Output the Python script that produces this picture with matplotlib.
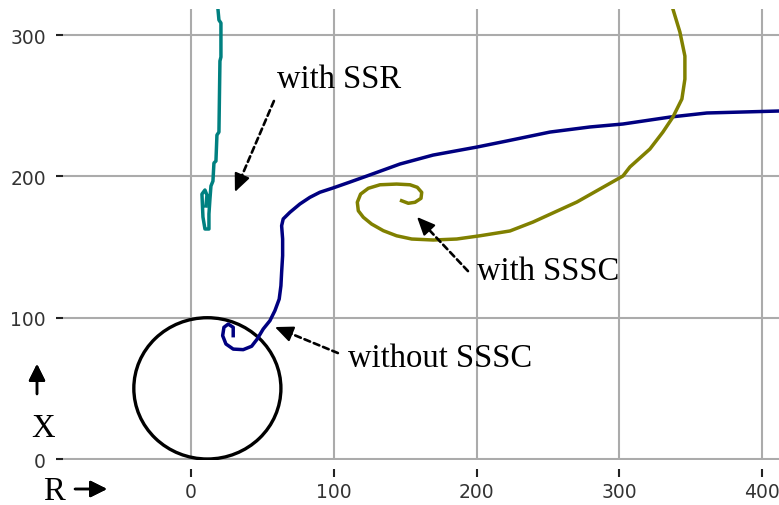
import matplotlib.pyplot as plt
from matplotlib.patches import Ellipse

# 阻抗轨迹数据 (R, X)
ssr_r = [18.9, 19.6, 21.0, 21.0, 20.3, 19.6, 18.2, 17.5, 16.1, 15.4, 14.0, 13.3,
         12.6, 12.6, 9.8, 8.4, 7.7, 9.8, 11.2, 10.5]
ssr_x = [318.5, 310.7, 308.6, 284.5, 281.7, 231.4, 229.3, 210.9, 209.5, 196.7, 193.2, 184.0,
         173.4, 162.8, 162.8, 171.3, 187.5, 190.4, 186.8, 179.1]

without_r = [29.6, 29.6, 26.1, 23.1, 22.2, 24.5, 29.6, 36.6, 42.5, 46.4, 50.6, 55.3,
             58.8, 61.8, 63.0, 63.5, 64.2, 64.2, 63.5, 64.6, 69.3, 76.3, 83.3, 90.3,
             99.4, 111.3, 123.2, 146.4, 169.5, 200.3, 221.3, 251.4, 279.4, 302.5,
             335.4, 361.3, 411.8]
without_x = [87.3, 93.2, 95.5, 93.2, 87.3, 81.4, 77.8, 77.4, 79.8, 84.9, 92.0, 97.9,
             105.0, 113.2, 122.6, 132.1, 143.9, 155.7, 165.1, 169.9, 174.6, 180.5, 185.2, 188.8,
             191.8, 196.0, 200.3, 208.8, 215.1, 220.8, 225.1, 231.4, 235.0, 237.1,
             242.0, 244.9, 246.3]

sssc_r = [147.5, 152.2, 156.9, 161.1, 161.6, 158.5, 153.4, 144.0, 132.4, 124.2, 118.8,
          116.5, 117.2, 120.7, 126.5, 134.7, 144.0, 154.6, 169.7, 186.1, 202.4, 223.4,
          239.5, 254.9, 270.3, 286.4, 302.5, 307.4, 321.4, 330.5, 337.5, 343.8, 345.9,
          345.9, 342.4, 337.5]
sssc_x = [182.8, 181.0, 181.7, 184.5, 188.7, 192.3, 194.1, 194.6, 194.1, 191.6, 187.5,
          181.7, 175.7, 171.1, 166.3, 161.6, 158.0, 155.7, 155.0, 155.7, 158.0, 161.4,
          167.7, 174.8, 181.9, 191.1, 200.3, 206.7, 219.4, 231.4, 242.0, 254.8, 268.9,
          285.2, 302.2, 318.5]

# 距离保护圆 (圆心, 直径)
circle_center = (11.5, 50.0)
circle_size = (103.0, 100.0)

r_ticks = [0, 100, 200, 300, 400]
x_ticks = [0, 100, 200, 300]

plt.rcParams['font.family'] = ['DejaVu Sans']
fig = plt.figure(figsize=(7.79, 5.06), dpi=100)
ax = fig.add_axes([63 / 779, 1 - 461 / 506, 1 - 63 / 779, (461 - 10) / 506])

# 网格线
ax.grid(True, color='#ababab', linewidth=1.5)
ax.set_axisbelow(True)
for s in ax.spines.values():
    s.set_visible(False)
ax.spines['bottom'].set_position(('outward', 6.5))

ax.add_patch(Ellipse(circle_center, circle_size[0], circle_size[1], fill=False,
                     edgecolor='black', linewidth=2.4))
ax.plot(ssr_r, ssr_x, color='#008080', linewidth=2.5)
ax.plot(without_r, without_x, color='#000080', linewidth=2.5)
ax.plot(sssc_r, sssc_x, color='#808000', linewidth=2.5)

ax.set_xlim(-89.6, 411.8)
ax.set_ylim(-0.7, 318.5)
ax.set_xticks(r_ticks)
ax.set_yticks(x_ticks)
ax.tick_params(axis='x', length=5.8, width=1.5, color='#222222', pad=3.2,
               labelsize=13.5, labelcolor='#333333')
ax.tick_params(axis='y', length=5.2, width=1.5, color='#222222', pad=7,
               labelsize=13.5, labelcolor='#333333')

# 注释箭头: 虚线 + 实心箭头
serif = ['Liberation Serif', 'DejaVu Serif']
dash = dict(arrowstyle='-', color='black', linewidth=1.9, linestyle=(0, (2.3, 1.5)),
            shrinkA=0, shrinkB=8)
head = dict(arrowstyle='-|>,head_length=0.5,head_width=0.22', color='black',
            linewidth=1.5, mutation_scale=22, shrinkA=0, shrinkB=0)


def dotted_arrow(tip, tail):
    ax.annotate('', xy=tip, xytext=tail, arrowprops=dash)
    near = (tip[0] + 0.15 * (tail[0] - tip[0]), tip[1] + 0.15 * (tail[1] - tip[1]))
    ax.annotate('', xy=tip, xytext=near, arrowprops=head)


dotted_arrow((30.8, 189.0), (58.1, 253.4))
dotted_arrow((158.3, 171.3), (194.0, 133.0))
dotted_arrow((58.8, 93.4), (102.9, 75.0))
ax.text(60.2, 263.5, 'with SSR', family=serif, fontsize=23.5, va='baseline')
ax.text(200.3, 127.4, 'with SSSC', family=serif, fontsize=23.5, va='baseline')
ax.text(109.9, 65.8, 'without SSSC', family=serif, fontsize=23.5, va='baseline')

# 坐标轴标注 R, X
fig.text(43 / 779, 1 - 500 / 506, 'R', family=serif, fontsize=23.5, va='baseline')
fig.text(31 / 779, 1 - 437 / 506, 'X', family=serif, fontsize=23.5, va='baseline')
solid = dict(arrowstyle='-|>,head_length=0.5,head_width=0.25', color='black',
             linewidth=1.8, mutation_scale=20, shrinkA=0, shrinkB=0)
fig.add_artist(plt.annotate('', xy=(107 / 779, 1 - 490 / 506), xytext=(75 / 779, 1 - 490 / 506),
                            xycoords='figure fraction', arrowprops=solid))
fig.add_artist(plt.annotate('', xy=(37 / 779, 1 - 365 / 506), xytext=(37 / 779, 1 - 395 / 506),
                            xycoords='figure fraction', arrowprops=solid))

plt.savefig('out.png', dpi=100)
